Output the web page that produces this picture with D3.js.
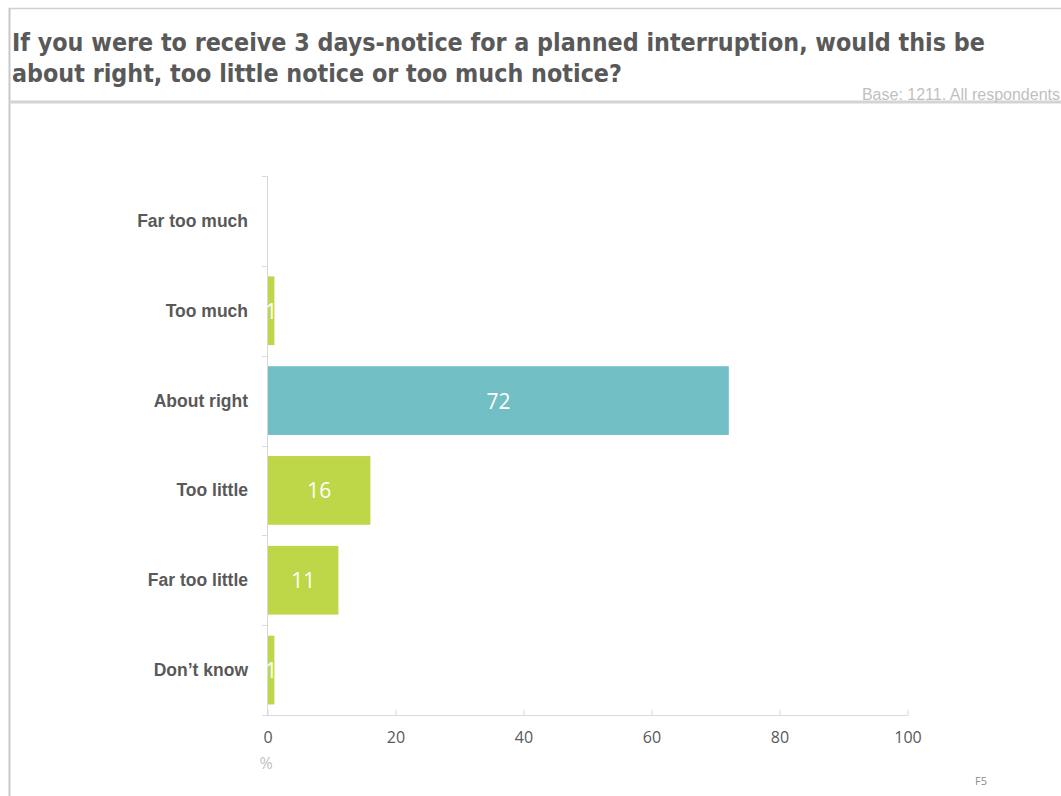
<!DOCTYPE html>
<html>
<head>
<meta charset="utf-8">
<script src="https://cdn.jsdelivr.net/npm/d3@7"></script>
<style>
  html, body { margin: 0; padding: 0; background: #fff; }
  svg { display: block; }
</style>
</head>
<body>
<svg id="chart" width="1061" height="796"></svg>
<script>
// Survey responses (% of respondents)
const categories = ["Far too much", "Too much", "About right", "Too little", "Far too little", "Don\u2019t know"];
const values = [0, 1, 72, 16, 11, 1];
const highlight = ["About right"];
const xTicks = [0, 20, 40, 60, 80, 100];
const titleLines = [
  "If you were to receive 3 days-notice for a planned interruption, would this be",
  "about right, too little notice or too much notice?"
];
const baseNote = "Base: 1211. All respondents";
const slideCode = "F5";

const svg = d3.select("#chart");
const W = 1061, H = 796;

// Frame lines
svg.append("line").attr("x1", 9).attr("x2", W).attr("y1", 8.5).attr("y2", 8.5)
  .attr("stroke", "#d0d0d0").attr("stroke-width", 1.5);
svg.append("line").attr("x1", 9.5).attr("x2", 9.5).attr("y1", 8).attr("y2", H)
  .attr("stroke", "#c8c8c8").attr("stroke-width", 2);
svg.append("line").attr("x1", 9).attr("x2", W).attr("y1", 102).attr("y2", 102)
  .attr("stroke", "#d4d4d4").attr("stroke-width", 3);

// Title
const title = svg.append("text")
  .attr("font-family", "'DejaVu Sans Condensed', 'DejaVu Sans', sans-serif")
  .attr("font-stretch", "condensed")
  .attr("font-weight", "bold").attr("font-size", 24.8).attr("fill", "#595959");
titleLines.forEach((t, i) => {
  title.append("tspan").attr("x", 12).attr("y", 51 + i * 31).text(t);
});

svg.append("text").attr("x", 1060).attr("y", 100).attr("text-anchor", "end")
  .attr("font-family", "'Liberation Sans', Arial, sans-serif").attr("font-size", 16)
  .attr("fill", "#bfbfbf").text(baseNote);

// Plot area
const margin = { left: 267, right: 154, top: 176, bottom: 81 };
const x = d3.scaleLinear().domain([0, 100]).range([margin.left, W - margin.right]);
const y = d3.scaleBand().domain(categories).range([margin.top, H - margin.bottom])
  .paddingInner(0.235).paddingOuter(0.1175);

const data = categories.map((c, i) => ({ cat: c, val: values[i] }));
const step = y.step();

// Y axis line with boundary ticks
const yAxisG = svg.append("g");
yAxisG.append("line").attr("x1", x(0) + 0.5).attr("x2", x(0) + 0.5)
  .attr("y1", margin.top).attr("y2", H - margin.bottom)
  .attr("stroke", "#d9d9d9").attr("stroke-width", 1);
d3.range(categories.length).forEach(i => {
  const yy = Math.round(margin.top + i * step) + 0.5;
  yAxisG.append("line").attr("x1", x(0) - 5).attr("x2", x(0) + 0.5)
    .attr("y1", yy).attr("y2", yy).attr("stroke", "#d9d9d9");
});

// Bars
svg.append("g").selectAll("rect").data(data).join("rect")
  .attr("x", x(0) + 1)
  .attr("y", d => y(d.cat))
  .attr("width", d => Math.max(0, x(d.val) - x(0)))
  .attr("height", y.bandwidth())
  .attr("fill", d => highlight.includes(d.cat) ? "#72bec5" : "#bdd748");

// Value labels
svg.append("g").selectAll("text").data(data.filter(d => d.val > 0)).join("text")
  .attr("x", d => (x(0) + x(d.val)) / 2 + 1)
  .attr("y", d => y(d.cat) + y.bandwidth() / 2 + 8)
  .attr("text-anchor", "middle")
  .attr("font-family", "'Open Sans', 'Liberation Sans', sans-serif")
  .attr("font-size", 21).attr("fill", "#ffffff")
  .text(d => d.val);

// Category labels
svg.append("g").selectAll("text").data(categories).join("text")
  .attr("x", 248)
  .attr("y", c => y(c) + y.bandwidth() / 2 + 6)
  .attr("text-anchor", "end")
  .attr("font-family", "'Liberation Sans', Arial, sans-serif")
  .attr("font-weight", "bold").attr("font-size", 17.5).attr("fill", "#595959")
  .text(c => c);

// X axis
const xAxis = d3.axisBottom(x).tickValues(xTicks).tickSize(-6).tickPadding(16).tickFormat(d3.format("d"));
const xg = svg.append("g").attr("transform", `translate(0.5,${H - margin.bottom + 0.5})`).call(xAxis);
xg.select(".domain").attr("stroke", "#d9d9d9").attr("d", `M${x(0) - 5},0H${x(100)}`);
xg.selectAll(".tick line").attr("stroke", "#d9d9d9");
xg.selectAll(".tick text")
  .attr("font-family", "'Open Sans', 'Liberation Sans', sans-serif")
  .attr("font-size", 16).attr("fill", "#595959");

svg.append("text").attr("x", x(0) - 1).attr("y", 769).attr("text-anchor", "middle")
  .attr("font-family", "'Open Sans', 'Liberation Sans', sans-serif")
  .attr("font-size", 16).attr("fill", "#bfbfbf").text("%");

svg.append("text").attr("x", 981).attr("y", 785).attr("text-anchor", "middle")
  .attr("font-family", "'Open Sans', 'Liberation Sans', sans-serif")
  .attr("font-size", 11).attr("fill", "#8c8c8c").text(slideCode);
</script>
</body>
</html>
